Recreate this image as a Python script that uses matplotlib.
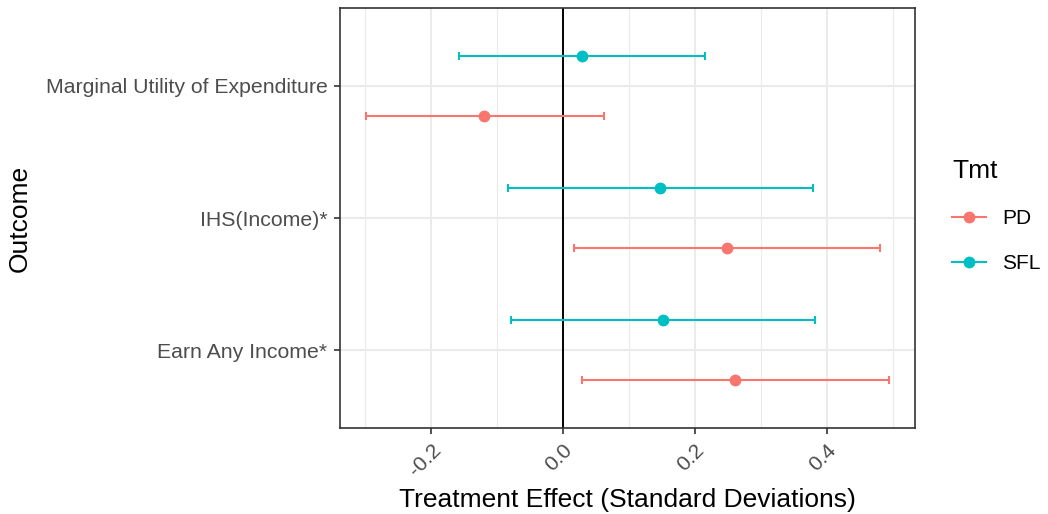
import matplotlib
matplotlib.use("Agg")
import matplotlib.pyplot as plt
from matplotlib.lines import Line2D
import numpy as np

# Data
outcomes = ["Earn Any Income*", "IHS(Income)*", "Marginal Utility of Expenditure"]
treatments = ["PD", "SFL"]

pd_est = [0.261, 0.249, -0.119]
pd_lo = [0.029, 0.017, -0.299]
pd_hi = [0.495, 0.481, 0.063]

sfl_est = [0.152, 0.148, 0.029]
sfl_lo = [-0.078, -0.083, -0.157]
sfl_hi = [0.383, 0.379, 0.216]

colors = {"PD": "#F8766D", "SFL": "#00BFC4"}

plt.rcParams["font.family"] = ["Liberation Sans", "DejaVu Sans"]

fig = plt.figure(figsize=(10.48, 5.14), dpi=100)
ax = fig.add_axes([340 / 1048, 1 - 428 / 514, 575 / 1048, 420 / 514])

y = np.arange(1, len(outcomes) + 1)
dodge = 0.225
series = [
    ("PD", pd_est, pd_lo, pd_hi, -dodge),
    ("SFL", sfl_est, sfl_lo, sfl_hi, dodge),
]

# grid like theme_bw
for xv in [-0.3, -0.1, 0.1, 0.3, 0.5]:
    ax.axvline(xv, color="#EBEBEB", lw=0.8, zorder=0)
for xv in [-0.2, 0.0, 0.2, 0.4]:
    ax.axvline(xv, color="#EBEBEB", lw=1.5, zorder=0)
for yv in y:
    ax.axhline(yv, color="#EBEBEB", lw=1.5, zorder=0)

ax.axvline(0, color="black", lw=1.4, zorder=2)

for name, est, lo, hi, off in series:
    est = np.array(est)
    yy = y + off
    ax.errorbar(est, yy, xerr=[est - np.array(lo), np.array(hi) - est],
                fmt="none", ecolor=colors[name], elinewidth=1.5,
                capsize=3, capthick=1.5, zorder=3)
    ax.plot(est, yy, "o", color=colors[name], ms=7.5, zorder=4)

ax.set_xlim(-0.338, 0.534)
ax.set_ylim(0.41, 3.59)
ax.set_xticks([-0.2, 0.0, 0.2, 0.4])
ax.set_xticklabels(["-0.2", "0.0", "0.2", "0.4"], rotation=45,
                   ha="right", va="top", rotation_mode="anchor")
ax.set_yticks(y)
ax.set_yticklabels(outcomes)
ax.tick_params(axis="both", colors="#333333", labelcolor="#4D4D4D",
               labelsize=15.3, length=4, width=1.2)
ax.tick_params(axis="x", pad=5)
ax.tick_params(axis="y", pad=5)

for s in ax.spines.values():
    s.set_color("#333333")
    s.set_linewidth(1.2)

ax.set_xlabel("Treatment Effect (Standard Deviations)", fontsize=19, labelpad=6)
ax.set_ylabel("Outcome", fontsize=19, labelpad=10)

handles = [Line2D([0], [0], color=colors[t], lw=1.5, marker="o", ms=7.5)
           for t in treatments]
leg = fig.legend(handles, treatments, title="Tmt", loc="center left",
                 bbox_to_anchor=(944 / 1048, 1 - 216 / 514),
                 frameon=False, fontsize=15, title_fontsize=19,
                 handlelength=1.6, handletextpad=0.8, labelspacing=1.25,
                 borderaxespad=0)
leg._legend_box.align = "left"

fig.savefig("out.png", dpi=100)
